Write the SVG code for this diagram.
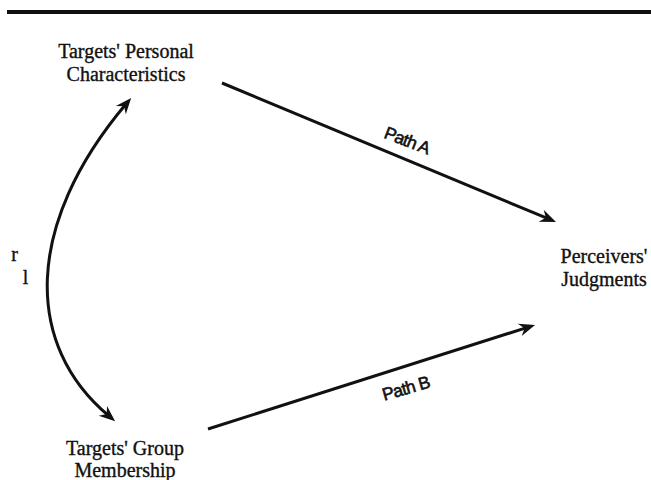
<svg xmlns="http://www.w3.org/2000/svg" width="651" height="480" viewBox="0 0 651 480">
<style>
.t{font-family:"Liberation Serif","Times New Roman",serif;font-size:20px;fill:#111;stroke:#111;stroke-width:0.35;text-anchor:middle}
.p{font-family:"Liberation Sans",Arial,sans-serif;font-size:17.5px;fill:#111;stroke:#111;stroke-width:0.6;text-anchor:middle;letter-spacing:-0.7px}
.c{fill:none;stroke:#111;stroke-width:3}
</style>
<defs>
<marker id="ah" viewBox="-17 -8 18 16" refX="-8" refY="0" markerWidth="18" markerHeight="16" markerUnits="userSpaceOnUse" orient="auto-start-reverse">
<path d="M0,0 L-16,-6.5 L-11,0 L-16,6.5 Z" fill="#111"/>
</marker>
</defs>
<rect x="0" y="0" width="651" height="480" fill="#fff"/>
<line x1="7" y1="12" x2="651" y2="12" stroke="#111" stroke-width="4"/>
<g id="personal"><text class="t" x="126" y="58">Targets' Personal</text><text class="t" x="126" y="81">Characteristics</text></g>
<g id="group"><text class="t" x="125" y="455">Targets' Group</text><text class="t" x="125" y="477">Membership</text></g>
<g id="judgments"><text class="t" x="604" y="263">Perceivers'</text><text class="t" x="604" y="286">Judgments</text></g>
<g id="r-label"><text class="t" x="14.5" y="261">r</text><text class="t" x="25.5" y="284">l</text></g>
<g id="connectors">
<path class="c" d="M222,83 L548.6,218.9" marker-end="url(#ah)"/>
<path class="c" d="M208,429 L527.4,327.4" marker-end="url(#ah)"/>
<path class="c" d="M109,416 C24,345 24,225 126,104" marker-end="url(#ah)" marker-start="url(#ah)"/>
<text class="p" transform="translate(405,146) rotate(21)">Path A</text>
<text class="p" transform="translate(407.5,394) rotate(-16)">Path B</text>
</g>
</svg>
